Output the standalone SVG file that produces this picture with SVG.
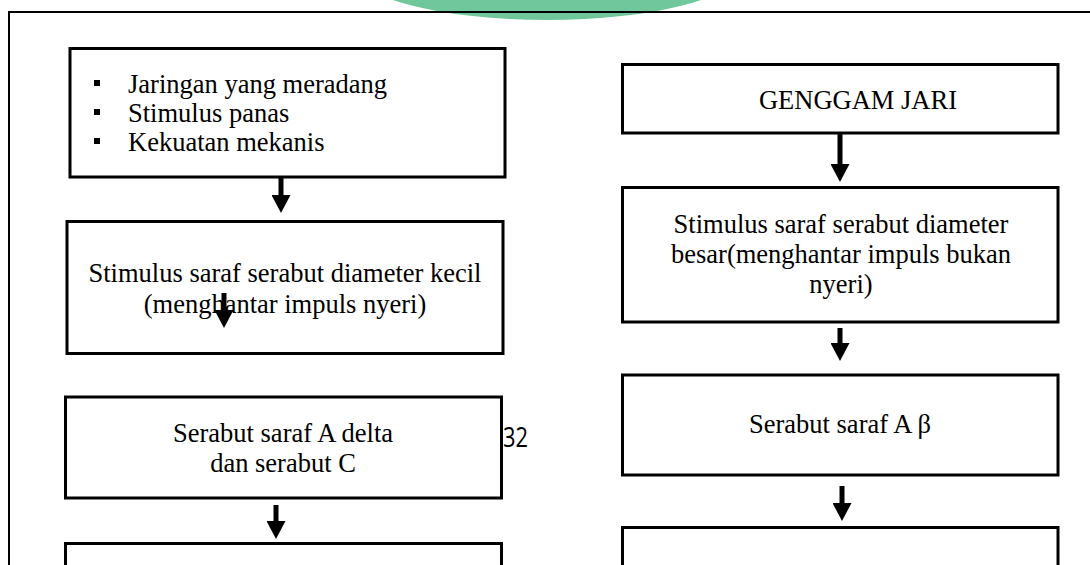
<svg xmlns="http://www.w3.org/2000/svg" width="1090" height="565" viewBox="0 0 1090 565">
<style>
.box{fill:#fff;stroke:#000;stroke-width:3}
.t{font-family:"Liberation Serif","Times New Roman",serif;font-size:26.5px;fill:#000}
.c{text-anchor:middle}
.conn{stroke:#000;stroke-width:5;fill:none}
</style>
<defs>
<marker id="ah" viewBox="0 0 18 19" markerWidth="18" markerHeight="19" markerUnits="userSpaceOnUse" refX="0" refY="9.5" orient="auto">
<path d="M0,0 L18,9.5 L0,19 z" fill="#000"/>
</marker>
</defs>
<rect width="1090" height="565" fill="#fff"/>
<ellipse cx="547" cy="-31" rx="194" ry="51" fill="#6fc79b"/>
<path d="M9,565 V12 H1090" fill="none" stroke="#000" stroke-width="2"/>

<g id="n1">
<rect class="box" x="70" y="48.5" width="435" height="128.5"/>
<rect x="94" y="80" width="6" height="6"/>
<rect x="94" y="109" width="6" height="6"/>
<rect x="94" y="138" width="6" height="6"/>
<text class="t" x="128" y="93">Jaringan yang meradang</text>
<text class="t" x="128" y="122">Stimulus panas</text>
<text class="t" x="128" y="151">Kekuatan mekanis</text>
</g>

<g id="n2">
<rect class="box" x="67" y="221.5" width="436" height="132"/>
<text class="t c" x="285" y="282">Stimulus saraf serabut diameter kecil</text>
<text class="t c" x="285" y="313">(menghantar impuls nyeri)</text>
</g>

<g id="n3">
<rect class="box" x="65.5" y="397" width="436" height="101"/>
<text class="t c" x="283" y="442">Serabut saraf A delta</text>
<text class="t c" x="283" y="472">dan serabut C</text>
</g>

<g id="n4">
<rect class="box" x="65.5" y="543.5" width="436" height="60"/>
</g>

<g id="r1">
<rect class="box" x="622.5" y="64.5" width="435.5" height="68.5"/>
<text class="t c" x="858" y="109">GENGGAM JARI</text>
</g>

<g id="r2">
<rect class="box" x="622.5" y="187.5" width="435.5" height="134.5"/>
<text class="t c" x="841" y="233">Stimulus saraf serabut diameter</text>
<text class="t c" x="841" y="263">besar(menghantar impuls bukan</text>
<text class="t c" x="841" y="293">nyeri)</text>
</g>

<g id="r3">
<rect class="box" x="622.5" y="375" width="435.5" height="100"/>
<text class="t c" x="840" y="433">Serabut saraf A β</text>
</g>

<g id="r4">
<rect class="box" x="622.5" y="527.5" width="435.5" height="60"/>
</g>

<text x="503" y="447" font-family="'Open Sans','Liberation Sans',sans-serif" font-size="27" textLength="25" lengthAdjust="spacingAndGlyphs" fill="#000">32</text>

<g id="connectors">
<line class="conn" x1="281" y1="177" x2="281" y2="195" marker-end="url(#ah)"/>
<line class="conn" x1="224" y1="293" x2="224" y2="310" marker-end="url(#ah)"/>
<line class="conn" x1="276" y1="505" x2="276" y2="521" marker-end="url(#ah)"/>
<line class="conn" x1="840" y1="133" x2="840" y2="164" marker-end="url(#ah)"/>
<line class="conn" x1="840" y1="328" x2="840" y2="343" marker-end="url(#ah)"/>
<line class="conn" x1="842" y1="486" x2="842" y2="503" marker-end="url(#ah)"/>
</g>
</svg>
